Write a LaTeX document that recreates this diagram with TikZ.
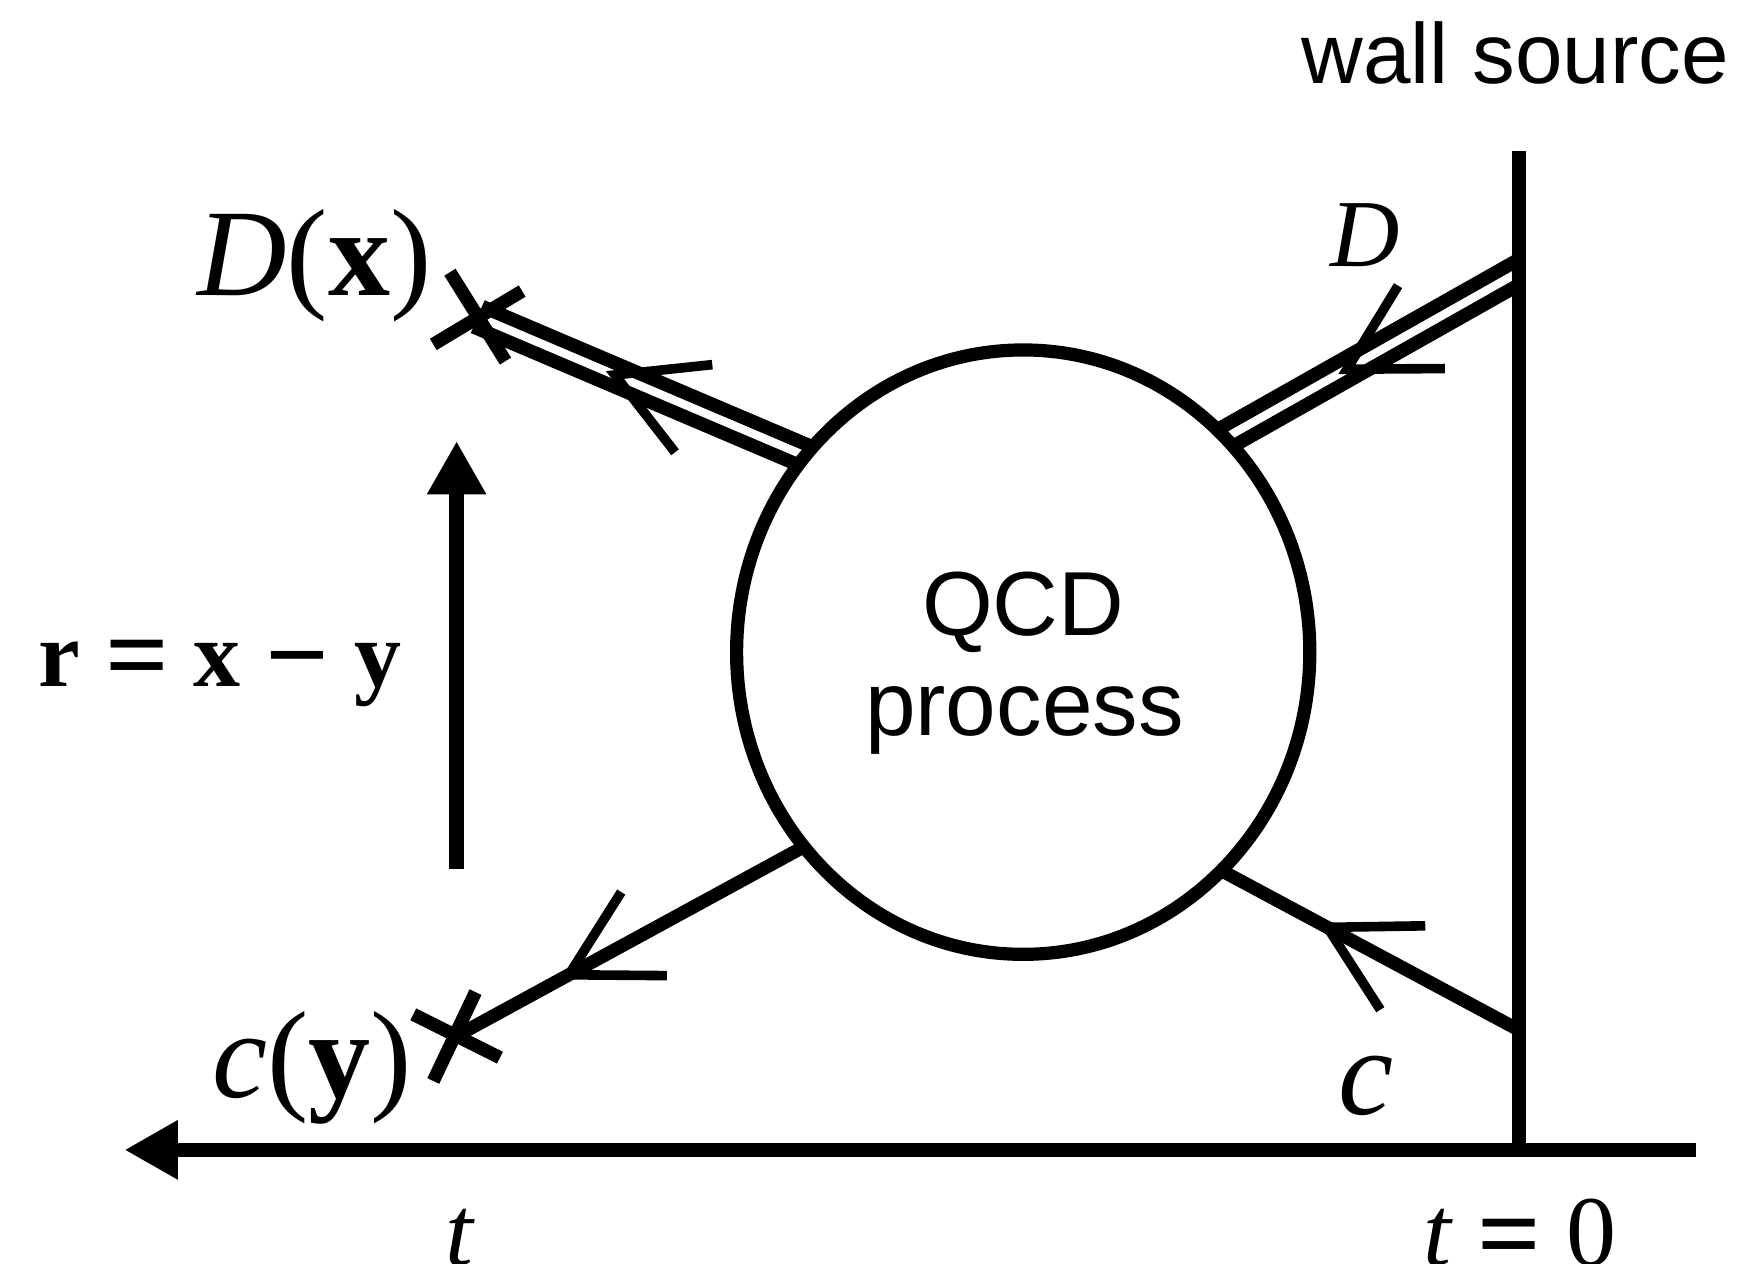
\documentclass[tikz,border=0pt]{standalone}
\usepackage{fontspec}
\setmainfont{Liberation Serif}
\newfontfamily\sansfnt{Liberation Sans}
\usetikzlibrary{shapes.geometric,arrows.meta,decorations.markings,calc}
\tikzset{
  ln/.style={line width=6.6pt},
  dblln/.style={line width=6.8pt, double=white, double distance=4.2pt},
  crossmark/.style={line width=6.6pt},
  heavy/.style={line width=7.2pt},
  vee/.style={decorate, decoration={markings, mark=at position #1 with {\draw[line width=4.8pt, line join=miter, miter limit=20] (-42.8pt,23.8pt) -- (0pt,0pt) -- (-42.8pt,-23.8pt);}}},
  bigarrow/.style={-{Triangle[length=26.7pt,width=27.8pt]}},
  lbl/.style={inner sep=0pt, outer sep=0pt, anchor=base},
}
\newcommand{\bigeq}{\raisebox{-3pt}{\fontsize{56}{60}\selectfont\bfseries =}}
\newcommand{\bigminus}{\raisebox{-3pt}{\fontsize{56}{60}\selectfont\bfseries −}}
\begin{document}
\begin{tikzpicture}[x=0.5555pt,y=-0.5555pt]
\useasboundingbox (0,0) rectangle (1568,1137);
% points
\coordinate (X) at (430,285);
\coordinate (Y) at (410,933);
\coordinate (A1) at (724,410);
\coordinate (A2) at (1105,393);
\coordinate (A3) at (1102,785);
\coordinate (A4) at (722,763);
\coordinate (W1) at (1367,245);
\coordinate (W2) at (1367,927);
\coordinate (wallT) at (1367,136);
\coordinate (wallB) at (1367,1035);
\coordinate (axR) at (1527,1035);
\coordinate (axL) at (112,1035);
\coordinate (rB) at (411,782);
\coordinate (rT) at (411,397);
% propagators
\begin{scope}
\clip (0,0) rectangle (1367,1137);
\draw[dblln] ($(W1)!-0.05!(A2)$) -- ($(A2)!-0.06!(W1)$);
\draw[ln] ($(W2)!-0.05!(A3)$) -- ($(A3)!-0.06!(W2)$);
\end{scope}
\draw[dblln] (X) -- ($(A1)!-0.06!(X)$);
\draw[ln] (Y) -- ($(A4)!-0.06!(Y)$);
% QCD blob
\node[ellipse, draw, ln, fill=white, minimum width=286.6pt, minimum height=302.2pt, inner sep=0pt] (qcd) at (921,587) {};
% arrowheads
\path[vee=0.58] (A1) -- (X);
\path[vee=0.59] (W1) -- (A2);
\path[vee=0.65] (W2) -- (A3);
\path[vee=0.673] (A4) -- (Y);
% crosses
\draw[crossmark] ([shift={(-25,-40)}]X) -- ([shift={(25,40)}]X);
\draw[crossmark] ([shift={(-40,25)}]X) -- ([shift={(40,-23)}]X);
\draw[crossmark] ([shift={(18,-40)}]Y) -- ([shift={(-20,40)}]Y);
\draw[crossmark] ([shift={(-38,-20)}]Y) -- ([shift={(40,19)}]Y);
% wall, time axis, r arrow
\draw[heavy] (wallT) -- (wallB);
\draw[heavy, bigarrow] (axR) -- (axL);
\draw[heavy, bigarrow] (rB) -- (rT);
% labels
\node[lbl, font=\sansfnt\fontsize{42.7}{50}\selectfont] (wallsrc) at (1364,75) {wall source};
\node[lbl, font=\sansfnt\fontsize{45.5}{50}\selectfont] (qcdA) at (921,572) {QCD};
\node[lbl, font=\sansfnt\fontsize{45.5}{50}\selectfont] (qcdB) at (922,662) {process};
\node[lbl, font=\fontsize{62}{70}\selectfont] (Dx) at (283,266) {\textit{D}(\textbf{x})};
\node[lbl, font=\fontsize{48}{56}\selectfont] (Dw) at (1229,240) {\textit{D}};
\node[lbl, font=\fontsize{62}{70}\selectfont] (cy) at (281,988) {\textit{c}(\textbf{y})};
\node[lbl, font=\fontsize{62}{70}\selectfont] (cw) at (1230,1003) {\textit{c}};
\node[lbl, font=\fontsize{47}{56}\selectfont] (req) at (198,618) {\textbf{r}\hspace{0.265em}\bigeq\hspace{0.265em}\textbf{x}\hspace{0.265em}\bigminus\hspace{0.265em}\textbf{y}};
\node[lbl, font=\fontsize{50}{58}\selectfont] (tl) at (414,1139) {\textit{t}};
\node[lbl, font=\fontsize{50}{58}\selectfont] (t0) at (1368,1139) {\textit{t}\hspace{0.25em}\bigeq\hspace{0.25em}0};
\end{tikzpicture}
\end{document}
